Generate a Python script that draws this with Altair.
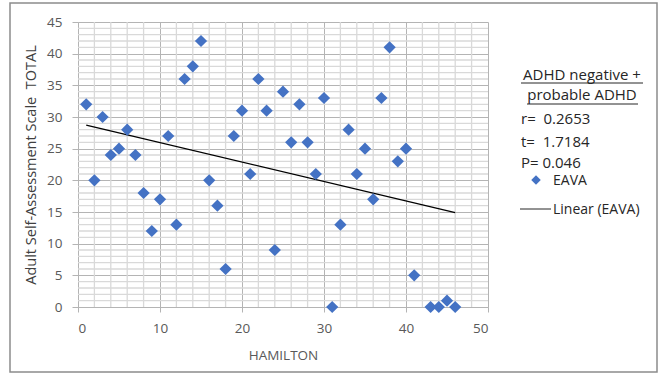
import altair as alt
import pandas as pd

# HAMILTON score vs. Adult Self-Assessment Scale total (EAVA)
hamilton = [1, 2, 3, 4, 5, 6, 7, 8, 9, 10,
            11, 12, 13, 14, 15, 16, 17, 18, 19, 20,
            21, 22, 23, 24, 25, 26, 27, 28, 29, 30,
            31, 32, 33, 34, 35, 36, 37, 38, 39, 40,
            41, 43, 44, 45, 46]
asrs_total = [32, 20, 30, 24, 25, 28, 24, 18, 12, 17,
              27, 13, 36, 38, 42, 20, 16, 6, 27, 31,
              21, 36, 31, 9, 34, 26, 32, 26, 21, 33,
              0, 13, 28, 21, 25, 17, 33, 41, 23, 25,
              5, 0, 0, 1, 0]

x_ticks = [0, 10, 20, 30, 40, 50]
y_ticks = [0, 5, 10, 15, 20, 25, 30, 35, 40, 45]
x_minor = [v for v in range(0, 51, 2) if v % 10 != 0]
y_minor = [v for v in range(0, 46) if v % 5 != 0]

NBSP = "\u00a0"
header_lines = ["ADHD negative +", "probable ADHD"]
stat_lines = ["r=" + NBSP + " 0.2653", "t=" + NBSP + " 1.7184", "P= 0.046"]
series_name = "EAVA"
trend_name = "Linear (EAVA)"
y_title = "Adult Self-Assessment Scale" + NBSP + " TOTAL"

FONT = "Open Sans"
BLUE = "#4472C4"
LABEL_GRAY = "#595959"

df = pd.DataFrame({"hamilton": hamilton, "asrs": asrs_total})

W, H = 410, 285

x_scale = alt.Scale(domain=[0, 50], nice=False, zero=True)
y_scale = alt.Scale(domain=[0, 45], nice=False, zero=True)

x_axis = alt.Axis(values=x_ticks, title="HAMILTON", grid=True,
                  gridColor="#b4b4b4", gridWidth=1,
                  domainColor="#b4b4b4", tickColor="#b4b4b4", tickSize=5,
                  labelColor=LABEL_GRAY, labelFont=FONT, labelFontSize=13.5,
                  labelPadding=9,
                  titleColor=LABEL_GRAY, titleFont=FONT, titleFontSize=13.5,
                  titleFontWeight="normal", titlePadding=14)
y_axis = alt.Axis(values=y_ticks, title=y_title,
                  grid=True, gridColor="#b4b4b4", gridWidth=1,
                  domainColor="#b4b4b4", tickColor="#b4b4b4", tickSize=6,
                  labelColor=LABEL_GRAY, labelFont=FONT, labelFontSize=13.5,
                  labelPadding=10,
                  titleColor="#404040", titleFont=FONT, titleFontSize=14.5,
                  titleFontWeight="normal", titlePadding=8)

# minor grid lines
vminor = alt.Chart(pd.DataFrame({"v": x_minor})).mark_rule(
    color="#d9d9d9", strokeWidth=1.3).encode(
    x=alt.X("v:Q", scale=x_scale, axis=x_axis))
hminor = alt.Chart(pd.DataFrame({"v": y_minor})).mark_rule(
    color="#d9d9d9", strokeWidth=1.3).encode(
    y=alt.Y("v:Q", scale=y_scale, axis=y_axis))

points = alt.Chart(df).mark_point(
    shape="diamond", filled=True, size=150, color=BLUE, opacity=1).encode(
    x=alt.X("hamilton:Q", scale=x_scale, axis=x_axis),
    y=alt.Y("asrs:Q", scale=y_scale, axis=y_axis))

trend = alt.Chart(df).transform_regression(
    "hamilton", "asrs").mark_line(color="black", strokeWidth=1.3).encode(
    x=alt.X("hamilton:Q", scale=x_scale, axis=x_axis),
    y=alt.Y("asrs:Q", scale=y_scale, axis=y_axis))

one = alt.Data(values=[{}])

# outer chart border
border = alt.Chart(one).mark_rect(
    fill="transparent", stroke="#8c8c8c", strokeWidth=1.5).encode(
    x=alt.value(-68), x2=alt.value(579), y=alt.value(-19), y2=alt.value(350))

def label(text, x, y, align="left", size=15):
    return alt.Chart(one).mark_text(
        font=FONT, fontSize=size, color="#262626", align=align,
        baseline="alphabetic").encode(
        text=alt.value(text), x=alt.value(x), y=alt.value(y))

def underline(x1, x2, y):
    return alt.Chart(one).mark_rule(color="#262626", strokeWidth=1).encode(
        x=alt.value(x1), x2=alt.value(x2), y=alt.value(y))

ox, oy = 78, 22  # plot origin in page pixels
legend_layers = [
    label(header_lines[0], 582 - ox, 80 - oy, align="center"),
    underline(521 - ox, 643 - ox, 83 - oy),
    label(header_lines[1], 582 - ox, 100 - oy, align="center"),
    underline(527 - ox, 638 - ox, 104 - oy),
    label(stat_lines[0], 521 - ox, 124 - oy),
    label(stat_lines[1], 521 - ox, 147 - oy),
    label(stat_lines[2], 521 - ox, 168 - oy),
    alt.Chart(one).mark_point(shape="diamond", filled=True, size=90,
                              color=BLUE, opacity=1).encode(
        x=alt.value(536 - ox), y=alt.value(180 - oy)),
    label(series_name, 553 - ox, 185 - oy, size=14),
    underline(520 - ox, 551 - ox, 209 - oy),
    label(trend_name, 553 - ox, 214 - oy, size=14),
]

chart = alt.layer(vminor, hminor, trend, points, border, *legend_layers).properties(
    width=W, height=H,
    autosize=alt.AutoSizeParams(type="none"),
    padding={"left": 78, "top": 22, "right": 172, "bottom": 69},
    background="white",
).configure_view(strokeWidth=0)

chart.save("out.html", embed_options={"renderer": "svg", "actions": False})
